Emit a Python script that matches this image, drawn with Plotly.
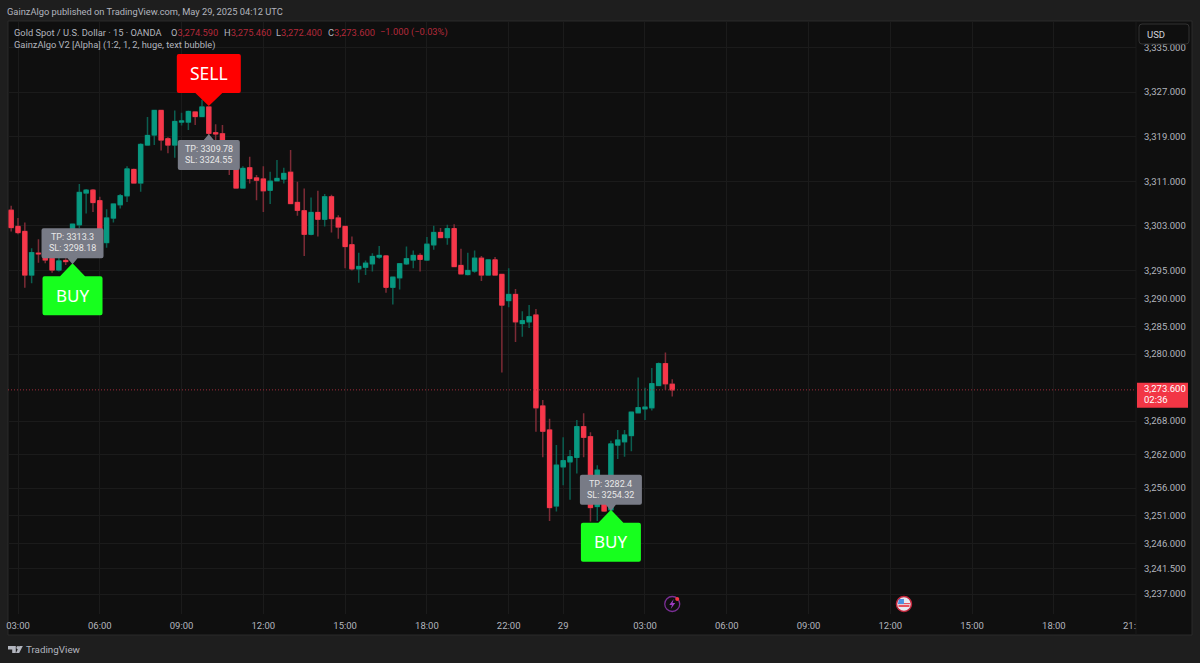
import plotly.graph_objects as go

opens = [3305.8,3302.9,3302.0,3294.2,3298.1,3298.0,3297.2,3295.1,3296.8,3297.8,3303.2,3308.9,3309.4,3307.5,3300.0,3304.4,3306.8,3308.4,3313.1,3310.7,
3317.5,3319.3,3323.7,3318.6,3317.5,3321.6,3321.6,3323.4,3322.6,3324.3,3319.7,3319.5,3316.6,3313.2,3309.8,3313.4,3311.6,3311.4,3309.4,3311.1,
3311.4,3312.6,3307.2,3305.7,3301.5,3305.4,3304.2,3308.2,3304.4,3302.9,3299.6,3295.3,3295.6,3296.2,3297.4,3297.6,3292.0,3293.7,3296.2,3296.9,
3297.7,3296.9,3299.6,3301.8,3300.9,3302.5,3295.9,3294.3,3294.9,3297.2,3294.2,3296.9,3294.3,3289.6,3290.7,3285.5,3285.8,3287.0,3270.7,3266.4,
3252.8,3259.8,3260.7,3261.5,3267.0,3265.2,3252.7,3255.3,3252.1,3263.7,3264.3,3265.4,3269.5,3270.2,3270.4,3274.4,3278.3,3274.6]
highs = [3306.6,3304.4,3303.6,3299.0,3300.6,3300.5,3297.8,3297.8,3297.2,3303.3,3310.5,3309.6,3309.6,3308.2,3306.0,3306.9,3308.7,3313.7,3313.3,3317.8,
3322.5,3323.8,3323.8,3318.9,3323.7,3323.3,3323.7,3323.5,3325.6,3324.3,3321.2,3321.1,3316.9,3314.8,3313.7,3315.4,3312.1,3313.7,3312.7,3314.8,
3313.4,3316.6,3310.9,3309.7,3308.1,3309.3,3308.7,3308.6,3304.9,3303.0,3301.1,3298.2,3296.8,3298.1,3299.4,3297.8,3293.9,3296.3,3299.3,3298.6,
3298.1,3301.0,3303.0,3302.6,3303.2,3303.3,3298.9,3298.2,3298.6,3297.6,3296.9,3297.4,3294.4,3295.4,3291.7,3287.7,3288.8,3288.1,3271.8,3268.4,
3263.7,3265.1,3262.8,3268.2,3269.4,3266.0,3260.1,3256.0,3264.5,3266.4,3266.4,3269.7,3275.8,3274.0,3277.5,3278.5,3280.3,3275.5]
lows = [3302.0,3301.5,3291.9,3292.7,3296.4,3296.3,3294.6,3294.8,3296.0,3296.3,3302.6,3305.2,3305.5,3299.7,3299.1,3303.6,3306.1,3307.3,3310.6,3309.1,
3317.4,3317.5,3316.5,3316.0,3315.2,3321.0,3320.2,3321.1,3322.5,3319.3,3318.4,3315.7,3312.1,3309.8,3309.7,3310.6,3307.6,3305.5,3306.9,3311.0,
3310.6,3306.9,3304.8,3297.6,3301.3,3301.1,3302.9,3301.8,3300.7,3295.4,3295.0,3292.8,3294.2,3294.8,3297.1,3291.0,3288.9,3291.6,3296.0,3295.4,
3294.8,3296.7,3298.7,3300.8,3299.6,3295.6,3294.3,3294.1,3294.6,3293.1,3294.2,3294.1,3276.7,3288.4,3282.2,3283.1,3284.7,3266.1,3261.5,3250.1,
3251.8,3256.5,3253.9,3258.6,3261.5,3250.0,3250.1,3251.7,3251.7,3261.2,3261.6,3262.6,3269.5,3268.2,3269.9,3274.3,3273.6,3272.4]
closes = [3302.7,3301.8,3294.2,3298.2,3298.0,3296.9,3295.1,3296.7,3296.6,3303.3,3309.0,3309.4,3307.2,3300.0,3304.4,3306.9,3308.4,3313.2,3310.7,3317.6,
3319.2,3323.7,3318.4,3317.5,3321.7,3321.8,3323.5,3322.6,3324.3,3319.6,3319.5,3316.6,3313.4,3309.8,3313.3,3311.5,3311.2,3309.3,3311.0,3311.5,
3312.4,3307.0,3305.8,3301.5,3305.4,3304.2,3308.2,3304.3,3302.8,3299.3,3295.3,3295.7,3296.3,3297.5,3297.7,3292.0,3293.8,3296.2,3297.1,3297.7,
3297.0,3299.7,3301.8,3300.9,3302.5,3295.7,3294.4,3295.0,3297.2,3294.2,3296.9,3294.2,3288.8,3290.7,3285.8,3286.0,3286.7,3270.4,3266.2,3252.5,
3260.1,3260.9,3261.6,3267.0,3265.1,3252.5,3259.2,3251.9,3263.9,3264.6,3265.5,3269.6,3270.4,3270.5,3274.7,3278.3,3274.7,3273.6]

bar_index = [i - 1 for i in range(len(opens))]

time_tick_index = [0, 12, 24, 36, 48, 60, 72, 80, 92, 104, 116, 128, 140, 152]
time_tick_text = ["03:00", "06:00", "09:00", "12:00", "15:00", "18:00", "22:00", "29", "03:00", "06:00", "09:00", "12:00", "15:00", "18:00"]
price_ticks = [3237, 3241.5, 3246, 3251, 3256, 3262, 3268, 3280, 3285, 3290, 3295, 3303, 3311, 3319, 3327, 3335]
price_tick_text = [f"{p:,.3f}" for p in price_ticks]

buy_index = [8, 87]
buy_price = [3296.3, 3252.1]
buy_tp = ["TP: 3313.3", "TP: 3282.4"]
buy_sl = ["SL: 3298.18", "SL: 3254.32"]
sell_index = [28]
sell_price = [3324.5]
sell_tp = ["TP: 3309.78"]
sell_sl = ["SL: 3324.55"]
last_price = 3273.6

BG, PANEL, GRID, BORDER = "#1e1e1e", "#0f0f0f", "#1b1b1b", "#2a2a2a"
UP, DOWN, UP_WICK, DOWN_WICK = "#089981", "#f7374a", "#0b5e50", "#7d2b36"
TXT, FONT, BIG = "#b2b5be", "Roboto", "Noto Sans"
L, R, T, B = 8, 64, 22, 49
W, H = 1200, 663
PW, PH = W - L - R, H - T - B

fig = go.Figure()
fig.add_trace(go.Candlestick(
    x=bar_index, open=opens, high=highs, low=lows, close=closes,
    increasing=dict(line=dict(color=UP_WICK, width=1.5), fillcolor=UP),
    decreasing=dict(line=dict(color=DOWN_WICK, width=1.5), fillcolor=DOWN),
    hoverinfo="skip", showlegend=False))
fig.add_trace(go.Candlestick(
    x=bar_index, open=opens, close=closes,
    high=[max(a, b) for a, b in zip(opens, closes)],
    low=[min(a, b) for a, b in zip(opens, closes)],
    increasing=dict(line=dict(color=UP, width=1), fillcolor=UP),
    decreasing=dict(line=dict(color=DOWN, width=1), fillcolor=DOWN),
    hoverinfo="skip", showlegend=False))

shapes, notes = [], []


def rpath(x0, x1, y0, y1, r, pointer=None):
    """Rounded box in px around an anchor; y grows downward here. pointer=(side, half, tip)."""
    f = lambda y: -y
    d = f"M{x0+r},{f(y0)} "
    if pointer and pointer[0] == "top":
        d += f"L{-pointer[1]},{f(y0)} L0,{f(pointer[2])} L{pointer[1]},{f(y0)} "
    d += f"L{x1-r},{f(y0)} Q{x1},{f(y0)} {x1},{f(y0+r)} L{x1},{f(y1-r)} Q{x1},{f(y1)} {x1-r},{f(y1)} "
    if pointer and pointer[0] == "bottom":
        d += f"L{pointer[1]},{f(y1)} L0,{f(pointer[2])} L{-pointer[1]},{f(y1)} "
    d += f"L{x0+r},{f(y1)} Q{x0},{f(y1)} {x0},{f(y1-r)} L{x0},{f(y0+r)} Q{x0},{f(y0)} {x0+r},{f(y0)} Z"
    return d


def circle(r, cx=0, cy=0):
    k = 0.5523 * r
    return (f"M{cx-r},{cy} C{cx-r},{cy+k} {cx-k},{cy+r} {cx},{cy+r} C{cx+k},{cy+r} {cx+r},{cy+k} {cx+r},{cy} "
            f"C{cx+r},{cy-k} {cx+k},{cy-r} {cx},{cy-r} C{cx-k},{cy-r} {cx-r},{cy-k} {cx-r},{cy} Z")


def pix_shape(path, xa, ya, fill, xref="x", yref="y", line=None, lw=0, layer="above"):
    shapes.append(dict(type="path", path=path, xsizemode="pixel", ysizemode="pixel",
                       xanchor=xa, yanchor=ya, xref=xref, yref=yref, fillcolor=fill, layer=layer,
                       line=dict(color=line or fill, width=lw)))


def note(text, x, y, xref="x", yref="y", dy=0, dx=0, size=9.5, color="#e8e8e8", xa="center", family=FONT):
    notes.append(dict(text=text, x=x, y=y, xref=xref, yref=yref, yshift=-dy, xshift=dx - (2 if xa == "left" else 0),
                      showarrow=False, xanchor=xa, yanchor="middle", font=dict(family=family, size=size, color=color)))


def label_pair(i, p, tp, sl, cy):
    note(tp, i, p, dy=cy - 5.8, size=9)
    note(sl, i, p, dy=cy + 4.8, size=9)


for i, p, tp, sl in zip(buy_index, buy_price, buy_tp, buy_sl):
    pix_shape(rpath(-30, 30, 13, 52, 2, ("top", 12.5, 0)), i, p, "#17ff1e")
    pix_shape(rpath(-31, 31, -35, -5, 2, ("bottom", 5, 1)), i, p, "#787b86")
    note("BUY", i, p, dy=32, size=17, color="#ffffff", family=BIG)
    label_pair(i, p, tp, sl, -20)
for i, p, tp, sl in zip(sell_index, sell_price, sell_tp, sell_sl):
    pix_shape(rpath(-32, 32, -52, -13, 2, ("bottom", 13.5, 0)), i, p, "#ff0000")
    pix_shape(rpath(-31, 31, 34, 64, 2, ("top", 5, 28)), i, p, "#787b86")
    note("SELL", i, p, dy=-32.5, size=17.5, color="#ffffff", family=BIG)
    label_pair(i, p, tp, sl, 49)

# Frame behind the chart (paper anchored, pixels from the plot's top-left corner)
pix_shape("M0,1 L1184,1 L1184,-613 L0,-613 Z", 0, 1, PANEL, xref="paper", yref="paper", line=BORDER, lw=1, layer="below")
shapes.append(dict(type="line", xref="paper", yref="paper", x0=1, x1=1, y0=-21 / PH, y1=1, line=dict(color=GRID, width=1), layer="below"))

# Last price line and tag
shapes.append(dict(type="line", xref="paper", yref="y", x0=0, x1=1, y0=last_price, y1=last_price, layer="above",
                   line=dict(color="#a02c3a", width=1, dash="1px,2px")))
pix_shape("M1,7 L52,7 L52,-18 L1,-18 Z", 1, last_price, "#f23645", xref="paper")
note("3,273.600", 1, last_price, xref="paper", dx=8, dy=-1.5, color="#ffffff", xa="left")
note("02:36", 1, last_price, xref="paper", dx=8, dy=9.5, color="#ffffff", xa="left")

# USD button
pix_shape(rpath(3, 53, 2, 22, 3), 1, 1, PANEL, xref="paper", yref="paper", line="#333333", lw=1)
note("USD", 1, 1, xref="paper", yref="paper", dx=11, dy=12, color="#d1d4dc", xa="left")

# Event markers
marker_y = (614 - 604) / PH
i_ev, i_us = 96, 130
pix_shape(circle(7.5), i_ev, marker_y, PANEL, yref="paper", line="#7b2f96", lw=1.3)
pix_shape("M1.5,5 L-3,-1 L-0.3,-1 L-1.5,-5 L3,1 L0.3,1 Z", i_ev, marker_y, "#9c3cc0", yref="paper")
pix_shape(circle(2, 5, 5), i_ev, marker_y, "#f23645", yref="paper")
pix_shape(circle(7.5), i_us, marker_y, "#e8e8f0", yref="paper", line="#c2253a", lw=1.5)
pix_shape("M-5.5,-3 L5.5,-3 L5.5,-1 L-5.5,-1 Z", i_us, marker_y, "#e8505f", yref="paper")
pix_shape("M-6,1 L6,1 L6,-0.2 L-6,-0.2 Z", i_us, marker_y, "#e8505f", yref="paper")
pix_shape("M-5,5 L0,5 L0,0 L-6,0 Z", i_us, marker_y, "#4a90e2", yref="paper")

# Header and legend text
note("GainzAlgo published on TradingView.com, May 29, 2025 04:12 UTC", 0, 1, xref="paper", yref="paper",
     dx=-1, dy=-11, size=9.3, color=TXT, xa="left")
red = lambda s: f'<span style="color:#b3293a">{s}</span>'
note("Gold Spot / U.S. Dollar · 15 · OANDA", 0, 1, xref="paper", yref="paper", dx=6, dy=10, size=9.3, color=TXT, xa="left")
for lab, val, px in (("O", "3,274.590", 171), ("H", "3,275.460", 224), ("L", "3,272.400", 276), ("C", "3,273.600", 328)):
    note(lab + red(val), 0, 1, xref="paper", yref="paper", dx=px - L, dy=10, size=9.3, color=TXT, xa="left")
note(red("−1.000 (−0.03%)"), 0, 1, xref="paper", yref="paper", dx=380 - L, dy=10, size=9.3, color=TXT, xa="left")
note("GainzAlgo V2 [Alpha] (1:2, 1, 2, huge, text bubble)", 0, 1, xref="paper", yref="paper", dx=6, dy=23, size=9.3, color=TXT, xa="left")

# Cut-off last time label
note("21:", 1, 0, xref="paper", yref="paper", dx=-13, dy=11, color=TXT, xa="left")

# TradingView footer
foot_y = -(649.5 - 614) / PH
pix_shape("M0,3.5 L7.8,3.5 L7.8,-3.5 L4.2,-3.5 L4.2,0 L0,0 Z", 0, foot_y, TXT, xref="paper", yref="paper")
pix_shape(circle(1.6, 10, 1.8), 0, foot_y, TXT, xref="paper", yref="paper")
pix_shape("M11.5,3.5 L14.8,3.5 L11.2,-3.5 L7.9,-3.5 Z", 0, foot_y, TXT, xref="paper", yref="paper")
note("TradingView", 0, foot_y, xref="paper", yref="paper", dx=18, size=9.8, color=TXT, xa="left")

# Pixel-to-value calibration: 6.815 px per bar (index 0 at x=18), 5.578 px per dollar (3327 at y=92)
x_range = [(L - 18) / 6.815, (L + PW - 18) / 6.815]
y_range = [3327 - (T + PH - 92) / 5.578, 3327 + (92 - T) / 5.578]

fig.update_layout(
    width=W, height=H, margin=dict(l=L, r=R, t=T, b=B, pad=0, autoexpand=False),
    paper_bgcolor=BG, plot_bgcolor=PANEL, showlegend=False, boxgap=0.14, hovermode=False,
    font=dict(family=FONT, size=9.5, color=TXT), shapes=shapes, annotations=notes,
    xaxis=dict(range=x_range, tickmode="array", tickvals=time_tick_index, ticktext=time_tick_text, showgrid=True,
               gridcolor=GRID, gridwidth=1, zeroline=False, showline=False, ticks="", rangeslider=dict(visible=False),
               tickfont=dict(family=FONT, size=9.5, color=TXT), ticklabelstandoff=4, fixedrange=True, automargin=False),
    yaxis=dict(range=y_range, side="right", tickmode="array", tickvals=price_ticks, ticktext=price_tick_text, showgrid=True,
               gridcolor=GRID, gridwidth=1, zeroline=False, showline=False, ticks="",
               tickfont=dict(family=FONT, size=9.5, color=TXT), ticklabelstandoff=7, fixedrange=True, automargin=False),
)
fig.write_html("out.html", config=dict(displayModeBar=False), post_script="document.body.style.margin='0';document.body.style.overflow='hidden';")
